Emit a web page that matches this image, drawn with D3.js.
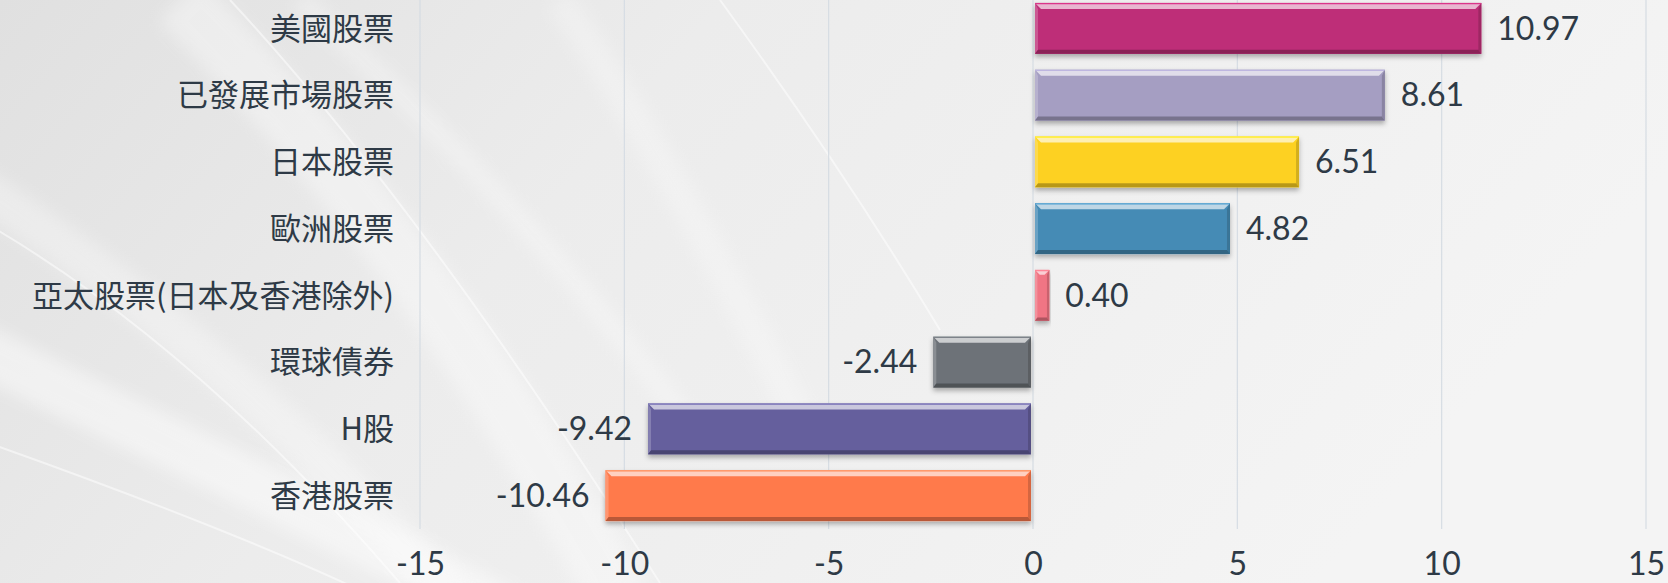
<!DOCTYPE html>
<html>
<head>
<meta charset="utf-8">
<script src="https://cdn.jsdelivr.net/npm/d3@7"></script>
<style>
  html, body { margin: 0; padding: 0; background: #efefef; }
  svg { display: block; }
  text { font-family: Lato, "Noto Sans CJK TC", "Noto Sans", sans-serif; fill: #2e3a46; }
</style>
</head>
<body>
<div id="chart"></div>
<script>
// data
const categories = ["美國股票", "已發展市場股票", "日本股票", "歐洲股票", "亞太股票(日本及香港除外)", "環球債券", "H股", "香港股票"];
const values = [10.97, 8.61, 6.51, 4.82, 0.40, -2.44, -9.42, -10.46];
const barColors = ["#BE2F78", "#A59EC2", "#FDD122", "#458BB5", "#F07584", "#6D7278", "#655F9D", "#FF7A4C"];
const tickValues = [-15, -10, -5, 0, 5, 10, 15];

const width = 1668, height = 583;

const svg = d3.select("#chart").append("svg")
  .attr("width", width)
  .attr("height", height);

const defs = svg.append("defs");

// background gradient
const bg = defs.append("linearGradient").attr("id", "bg")
  .attr("x1", "0").attr("y1", "0").attr("x2", "1").attr("y2", "0.3");
bg.append("stop").attr("offset", "0").attr("stop-color", "#e0e0e0");
bg.append("stop").attr("offset", "0.4").attr("stop-color", "#ececec");
bg.append("stop").attr("offset", "1").attr("stop-color", "#f4f4f4");

const shadow = defs.append("filter").attr("id", "shadow")
  .attr("x", "-5%").attr("y", "-20%").attr("width", "110%").attr("height", "150%");
shadow.append("feDropShadow")
  .attr("dx", 0).attr("dy", 3).attr("stdDeviation", 2.5)
  .attr("flood-color", "#000").attr("flood-opacity", 0.3);

const blur = defs.append("filter").attr("id", "soft");
blur.append("feGaussianBlur").attr("stdDeviation", 8);

svg.append("rect").attr("width", width).attr("height", height).attr("fill", "url(#bg)");

// white swooshes in the background
const swoosh = svg.append("g");
[
  ["M-60,330 C120,420 330,520 520,620", 50, 0.45],
  ["M-80,150 C100,260 300,420 470,620", 40, 0.3],
  ["M180,0 C330,150 470,330 620,600", 60, 0.35],
  ["M560,0 C640,120 720,260 800,420", 30, 0.25],
  ["M300,0 C420,110 560,250 700,440", 20, 0.3]
].forEach(d => {
  swoosh.append("path").attr("d", d[0]).attr("fill", "none")
    .attr("stroke", "#fff").attr("stroke-width", d[1]).attr("opacity", d[2])
    .attr("filter", "url(#soft)");
});
[
  "M-20,440 C150,500 300,560 380,600",
  "M230,0 C360,140 500,330 660,583",
  "M720,0 C800,110 880,230 940,330",
  "M-20,220 C120,300 260,420 400,583"
].forEach(d => {
  swoosh.append("path").attr("d", d).attr("fill", "none")
    .attr("stroke", "#fff").attr("stroke-width", 2).attr("opacity", 0.5);
});

const x = d3.scaleLinear().domain([-15, 15]).range([420, 1646]);
const y = d3.scaleBand().domain(categories).range([-5, 529]).paddingInner(0.236).paddingOuter(0.118);

// gridlines
svg.append("g").selectAll("line")
  .data(tickValues)
  .join("line")
  .attr("x1", d => x(d)).attr("x2", d => x(d))
  .attr("y1", 0).attr("y2", 529)
  .attr("stroke", "#d6dce3").attr("stroke-width", 1.2);

// axis tick labels
const xAxis = d3.axisBottom(x).tickValues(tickValues).tickFormat(d => String(d)).tickSize(0).tickPadding(0);
const ax = svg.append("g").attr("transform", "translate(0,564)").call(xAxis);
ax.select(".domain").remove();
ax.selectAll("text")
  .attr("dy", "0.35em")
  .attr("font-size", 32)
  .style("font-family", "Lato, 'Noto Sans', sans-serif")
  .attr("fill", "#2e3a46");

// category labels
svg.append("g").selectAll("text")
  .data(categories)
  .join("text")
  .attr("x", 394)
  .attr("y", d => y(d) + y.bandwidth() / 2)
  .attr("dy", "0.36em")
  .attr("text-anchor", "end")
  .attr("font-size", 31)
  .style("font-family", "'Noto Sans CJK TC', sans-serif")
  .text(d => d);

// bars with bevel
const bars = svg.append("g").selectAll("g")
  .data(values)
  .join("g")
  .attr("filter", "url(#shadow)");

bars.each(function (v, i) {
  const g = d3.select(this);
  const col = d3.color(barColors[i]);
  const x0 = Math.min(x(0), x(v)) + (v > 0 ? 2 : 0);
  const x1 = Math.max(x(0), x(v)) - (v < 0 ? 2 : 0);
  const y0 = y(categories[i]);
  const y1 = y0 + y.bandwidth();
  const b = Math.min(6, (x1 - x0) / 3);
  g.append("rect").attr("x", x0).attr("y", y0).attr("width", x1 - x0).attr("height", y1 - y0)
    .attr("fill", col.formatHex());
  // top highlight
  g.append("polygon")
    .attr("points", [[x0, y0], [x1, y0], [x1 - b, y0 + b], [x0 + b, y0 + b]].join(" "))
    .attr("fill", d3.interpolateRgb(col, "#fff")(0.65));
  g.append("line").attr("x1", x0).attr("x2", x1).attr("y1", y0 + 0.7).attr("y2", y0 + 0.7)
    .attr("stroke", col.brighter(0.4).formatHex()).attr("stroke-width", 1.4);
  // left
  g.append("polygon")
    .attr("points", [[x0, y0], [x0 + b * 0.5, y0 + b], [x0 + b * 0.5, y1 - b * 0.7], [x0, y1]].join(" "))
    .attr("fill", d3.interpolateRgb(col, "#fff")(0.2));
  // right
  g.append("polygon")
    .attr("points", [[x1, y0], [x1 - b * 0.5, y0 + b], [x1 - b * 0.5, y1 - b * 0.7], [x1, y1]].join(" "))
    .attr("fill", col.darker(0.5).formatHex());
  // bottom
  g.append("polygon")
    .attr("points", [[x0, y1], [x1, y1], [x1 - b * 0.5, y1 - b * 0.7], [x0 + b * 0.5, y1 - b * 0.7]].join(" "))
    .attr("fill", col.darker(0.9).formatHex());
});

// value labels
svg.append("g").selectAll("text")
  .data(values)
  .join("text")
  .attr("x", d => d >= 0 ? x(d) + 16 : x(d) - 16)
  .attr("y", (d, i) => y(categories[i]) + y.bandwidth() / 2)
  .attr("dy", "0.35em")
  .attr("text-anchor", d => d >= 0 ? "start" : "end")
  .attr("font-size", 32)
  .style("font-family", "Lato, 'Noto Sans', sans-serif")
  .text(d => d.toFixed(2));
</script>
</body>
</html>
